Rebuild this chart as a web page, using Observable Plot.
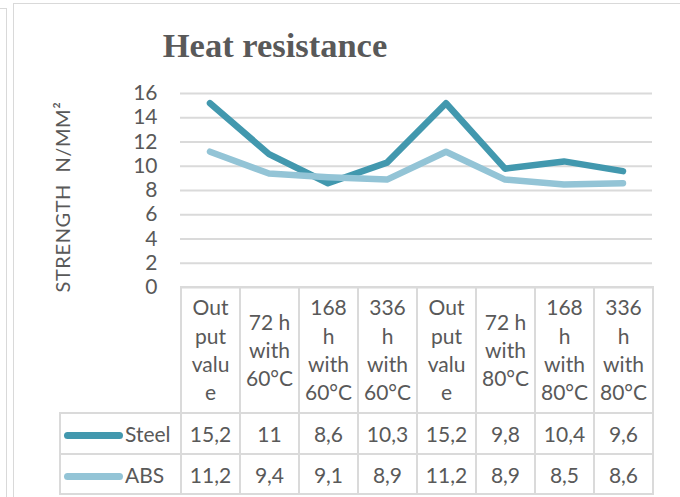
<!DOCTYPE html>
<html>
<head>
<meta charset="utf-8">
<script src="https://cdn.jsdelivr.net/npm/d3@7"></script>
<script src="https://cdn.jsdelivr.net/npm/@observablehq/plot@0.6"></script>
<style>
  html, body { margin: 0; padding: 0; background: #fff; }
  #wrap { position: relative; width: 680px; height: 497px; overflow: hidden; background: #fff; }
  #wrap svg.plot { position: absolute; left: 0; top: 0; }
  .frame1 { position: absolute; left: 13px; top: 3px; width: 800px; height: 600px; border: 1.5px solid #d9d9d9; box-sizing: border-box; }
  .frame0 { position: absolute; left: -10px; top: 8px; width: 17px; height: 600px; border: 1.5px solid #d9d9d9; box-sizing: border-box; }
  table.dt { position: absolute; left: 59px; top: 286px; border-collapse: collapse; table-layout: fixed;
    font-family: Lato, "Open Sans", sans-serif; font-size: 21px; color: #595959; }
  table.dt td { border: 2px solid #dadada; padding: 0; text-align: center; vertical-align: middle; }
  table.dt tr.head td { height: 124px; line-height: 28.3px; }
  table.dt tr.r1 td { height: 39px; }
  table.dt tr.r2 td { height: 38px; }
  table.dt td.blank { border-top: hidden; border-left: hidden; }
  table.dt td.leg { text-align: left; padding-left: 3px; white-space: nowrap; }
  .sw { display: inline-block; width: 59px; height: 7px; border-radius: 4px; vertical-align: middle; margin-right: 2px; position: relative; top: -1px; }
</style>
</head>
<body>
<div id="wrap">
  <div class="frame0"></div>
  <div class="frame1"></div>
</div>
<script>
// ---- data ----
const categories = [
  "Out\nput\nvalu\ne",
  "72 h\nwith\n60°C",
  "168\nh\nwith\n60°C",
  "336\nh\nwith\n60°C",
  "Out\nput\nvalu\ne",
  "72 h\nwith\n80°C",
  "168\nh\nwith\n80°C",
  "336\nh\nwith\n80°C"
];
const seriesNames = ["Steel", "ABS"];
const steel = [15.2, 11, 8.6, 10.3, 15.2, 9.8, 10.4, 9.6];
const abs = [11.2, 9.4, 9.1, 8.9, 11.2, 8.9, 8.5, 8.6];
const yTicks = [0, 2, 4, 6, 8, 10, 12, 14, 16];
const colors = ["#4298ae", "#93c4d6"];
const title = "Heat resistance";
const yLabel = "STRENGTH\u00a0\u00a0N/MM²";

// ---- build ----
const seriesValues = [steel, abs];
const rows = [];
seriesNames.forEach((s, si) => seriesValues[si].forEach((v, i) => rows.push({series: s, idx: i, value: v})));

const plot = Plot.plot({
  width: 680,
  height: 497,
  marginTop: 93,
  marginBottom: 210,
  marginLeft: 180,
  marginRight: 28,
  style: {fontFamily: "Lato, 'Open Sans', sans-serif", fontSize: "21px", color: "#595959", background: "transparent"},
  x: {type: "band", domain: d3.range(categories.length), padding: 0, axis: null},
  y: {domain: [0, 16], ticks: yTicks},
  color: {domain: seriesNames, range: colors},
  marks: [
    Plot.gridY(yTicks, {stroke: "#dadada", strokeOpacity: 1, strokeWidth: 2}),
    Plot.axisY(yTicks, {tickSize: 0, tickPadding: 23, label: null, fontSize: 21, fill: "#595959"}),
    Plot.line(rows, {x: "idx", y: "value", z: "series", stroke: "series", strokeWidth: 6.5,
      strokeLinejoin: "round", strokeLinecap: "round"})
  ]
});
plot.classList.add("plot");
const svg = d3.select(plot);
svg.append("text")
  .attr("x", 275).attr("y", 57)
  .attr("text-anchor", "middle")
  .attr("font-family", "'Liberation Serif', 'Times New Roman', serif")
  .attr("font-weight", "bold")
  .attr("font-size", 34.5)
  .attr("fill", "#595959")
  .text(title);
svg.append("text")
  .attr("transform", "translate(70,197) rotate(-90)")
  .attr("text-anchor", "middle")
  .attr("font-family", "Lato, 'Open Sans', sans-serif")
  .attr("font-size", 20)
  .attr("letter-spacing", "0.6px")
  .attr("fill", "#595959")
  .text(yLabel);

const wrap = document.getElementById("wrap");
wrap.appendChild(plot);

// ---- data table ----
const table = document.createElement("table");
table.className = "dt";
const colgroup = document.createElement("colgroup");
const c0 = document.createElement("col"); c0.style.width = "121px"; colgroup.appendChild(c0);
categories.forEach(() => { const c = document.createElement("col"); c.style.width = "59px"; colgroup.appendChild(c); });
table.appendChild(colgroup);
const head = document.createElement("tr"); head.className = "head";
const blank = document.createElement("td"); blank.className = "blank"; head.appendChild(blank);
categories.forEach(c => {
  const td = document.createElement("td");
  td.innerHTML = c.split("\n").join("<br>");
  head.appendChild(td);
});
table.appendChild(head);
seriesNames.forEach((s, si) => {
  const tr = document.createElement("tr"); tr.className = "r" + (si + 1);
  const leg = document.createElement("td"); leg.className = "leg";
  const sw = document.createElement("span"); sw.className = "sw"; sw.style.background = colors[si];
  leg.appendChild(sw); leg.appendChild(document.createTextNode(s));
  tr.appendChild(leg);
  seriesValues[si].forEach(v => {
    const td = document.createElement("td");
    td.textContent = String(v).replace(".", ",");
    tr.appendChild(td);
  });
  table.appendChild(tr);
});
wrap.appendChild(table);
</script>
</body>
</html>
